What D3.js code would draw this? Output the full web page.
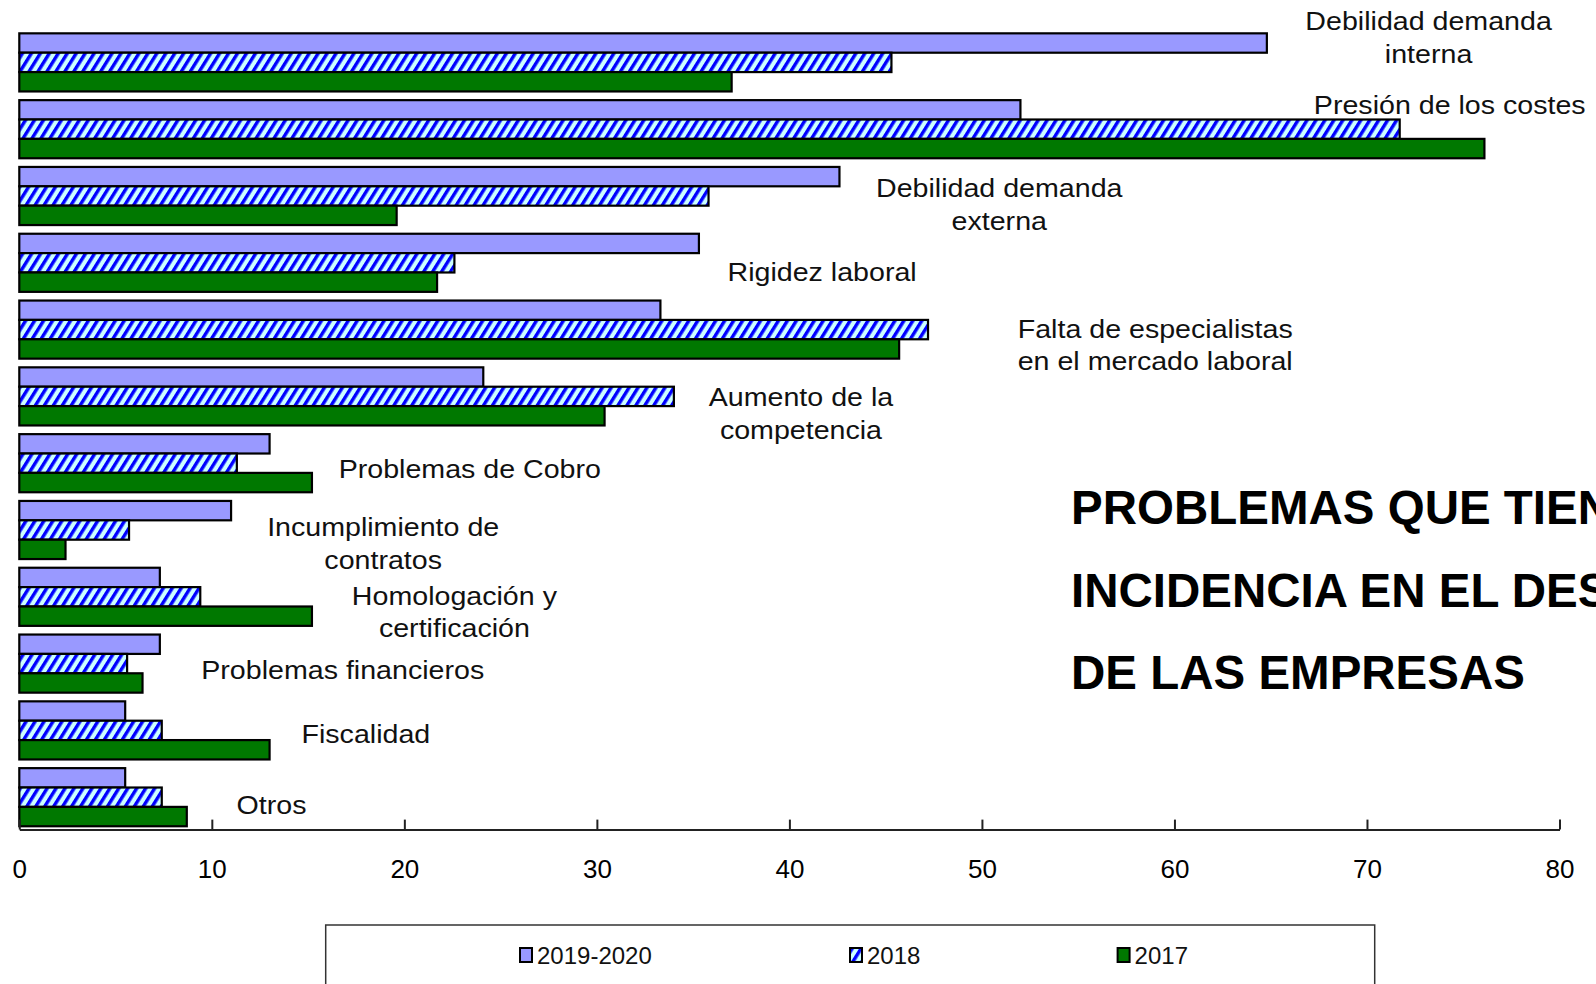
<!DOCTYPE html>
<html>
<head>
<meta charset="utf-8">
<script src="https://cdn.jsdelivr.net/npm/d3@7"></script>
<style>
  html, body { margin: 0; padding: 0; background: #ffffff; }
  svg { display: block; font-family: "Liberation Sans", Arial, sans-serif; }
</style>
</head>
<body>
<svg id="chart" width="1596" height="984"></svg>
<script>
// ---- data ----
const categories = [
  "Debilidad demanda interna",
  "Presión de los costes",
  "Debilidad demanda externa",
  "Rigidez laboral",
  "Falta de especialistas en el mercado laboral",
  "Aumento de la competencia",
  "Problemas de Cobro",
  "Incumplimiento de contratos",
  "Homologación y certificación",
  "Problemas financieros",
  "Fiscalidad",
  "Otros"
];
const labelLines = [
  ["Debilidad demanda", "interna"],
  ["Presión de los costes"],
  ["Debilidad demanda", "externa"],
  ["Rigidez laboral"],
  ["Falta de especialistas", "en el mercado laboral"],
  ["Aumento de la", "competencia"],
  ["Problemas de Cobro"],
  ["Incumplimiento de", "contratos"],
  ["Homologación y", "certificación"],
  ["Problemas financieros"],
  ["Fiscalidad"],
  ["Otros"]
];
const seriesNames = ["2019-2020", "2018", "2017"];
const values2019_2020 = [64.8, 52.0, 42.6, 35.3, 33.3, 24.1, 13.0, 11.0, 7.3, 7.3, 5.5, 5.5];
const values2018      = [45.3, 71.7, 35.8, 22.6, 47.2, 34.0, 11.3, 5.7, 9.4, 5.6, 7.4, 7.4];
const values2017      = [37.0, 76.1, 19.6, 21.7, 45.7, 30.4, 15.2, 2.4, 15.2, 6.4, 13.0, 8.7];
const tickValues = [0, 10, 20, 30, 40, 50, 60, 70, 80];
const titleLines = ["PROBLEMAS QUE TIENEN", "INCIDENCIA EN EL DESARROLLO", "DE LAS EMPRESAS"];

// ---- layout (not data) ----
const labelCenterValue = [73.2, 74.3, 50.9, 41.7, 59.0, 40.6, 23.4, 18.9, 22.6, 16.8, 18.0, 13.1];
const labelBaselineOffset = [-3, 13.6, 30.3, 46.8, 37.3, 38.7, 44.2, 35.4, 36.8, 44.4, 41.7, 46.2];

const svg = d3.select("#chart");
const defs = svg.append("defs");
const pat = defs.append("pattern")
  .attr("id", "hatch")
  .attr("patternUnits", "userSpaceOnUse")
  .attr("width", 7.6).attr("height", 7.6)
  .attr("patternTransform", "rotate(32)");
pat.append("rect").attr("width", 7.6).attr("height", 7.6).attr("fill", "#ccffff");
pat.append("rect").attr("width", 3.4).attr("height", 7.6).attr("fill", "#0000ff");

const colors = { "2019-2020": "#9999ff", "2018": "url(#hatch)", "2017": "#007800" };

const x = d3.scaleLinear().domain([0, 80]).range([19.3, 1559.5]);
const y = d3.scaleBand().domain(categories).range([30, 829.6]).paddingInner(0.13).paddingOuter(0.05);
const ySub = d3.scaleBand().domain(seriesNames).range([0, y.bandwidth()]);

const seriesData = {
  "2019-2020": values2019_2020,
  "2018": values2018,
  "2017": values2017
};

const rows = [];
categories.forEach((c, i) => {
  seriesNames.forEach(s => rows.push({ cat: c, series: s, value: seriesData[s][i] }));
});

svg.append("g").selectAll("rect")
  .data(rows)
  .join("rect")
  .attr("x", x(0))
  .attr("y", d => y(d.cat) + ySub(d.series))
  .attr("width", d => x(d.value) - x(0))
  .attr("height", ySub.bandwidth())
  .attr("fill", d => colors[d.series])
  .attr("stroke", "#000")
  .attr("stroke-width", 2.2);

// axis
const axisY = 829.6;
const axis = d3.axisBottom(x).tickValues(tickValues).tickSizeInner(-10).tickSizeOuter(0).tickPadding(30);
const gAxis = svg.append("g").attr("transform", `translate(0,${axisY})`).call(axis);
gAxis.select(".domain").attr("stroke", "#222").attr("stroke-width", 2);
gAxis.selectAll(".tick line").attr("stroke", "#222").attr("stroke-width", 2);
gAxis.selectAll(".tick text")
  .attr("font-size", 26)
  .attr("font-family", "Liberation Sans, Arial, sans-serif")
  .attr("fill", "#000");

// category labels
const lblG = svg.append("g");
categories.forEach((c, i) => {
  const cx = x(labelCenterValue[i]);
  const by = y(c) + labelBaselineOffset[i];
  labelLines[i].forEach((line, j) => {
    lblG.append("text")
      .attr("transform", `translate(${cx},${by + j * 32.6}) scale(1.1,1)`)
      .attr("text-anchor", "middle")
      .attr("font-size", 26)
      .attr("fill", "#111")
      .text(line);
  });
});

// title
const tG = svg.append("g");
titleLines.forEach((t, i) => {
  tG.append("text")
    .attr("x", 1071)
    .attr("y", 524 + i * 82.5)
    .attr("font-size", 47.5)
    .attr("font-weight", "bold")
    .attr("fill", "#000")
    .text(t);
});

// legend
const leg = svg.append("g");
leg.append("rect")
  .attr("x", 325.7).attr("y", 925)
  .attr("width", 1049).attr("height", 80)
  .attr("fill", "#fff").attr("stroke", "#333").attr("stroke-width", 1.5);
const legX = [520, 850, 1117.6];
seriesNames.forEach((s, i) => {
  leg.append("rect")
    .attr("x", legX[i]).attr("y", 948)
    .attr("width", 12).attr("height", 14)
    .attr("fill", colors[s]).attr("stroke", "#000").attr("stroke-width", 2);
  leg.append("text")
    .attr("x", legX[i] + 17).attr("y", 963.5)
    .attr("font-size", 24)
    .attr("fill", "#111")
    .text(s);
});
</script>
</body>
</html>
